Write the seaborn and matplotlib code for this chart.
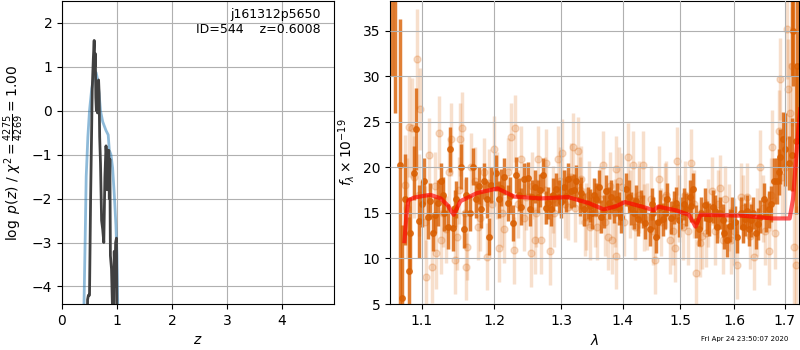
import matplotlib
matplotlib.use("Agg")
import matplotlib.pyplot as plt
import seaborn as sns
from matplotlib.ticker import FixedLocator, FormatStrFormatter, NullLocator

# p(z) curves
z_smooth = [0.38, 0.40, 0.42, 0.44, 0.47, 0.50, 0.54, 0.58, 0.62, 0.65, 0.68, 0.70,
            0.74, 0.80, 0.84, 0.86, 0.89, 0.92, 0.95, 0.98, 1.00, 1.02]
lnp_smooth = [-6.0, -4.4, -3.0, -1.5, -0.6, 0.0, 0.5, 0.8, 0.87, 0.7, 0.3, 0.0,
              -0.25, -0.45, -0.55, -0.9, -1.0, -1.3, -1.9, -2.6, -3.3, -5.0]

z_fit = [0.46, 0.465, 0.48, 0.50, 0.52, 0.55, 0.57, 0.585, 0.595, 0.605, 0.615, 0.625,
         0.635, 0.645, 0.655, 0.665, 0.675, 0.685, 0.70, 0.72, 0.74, 0.76, 0.78, 0.80,
         0.81, 0.82, 0.83, 0.84, 0.85, 0.86, 0.87, 0.88, 0.90, 0.92, 0.94, 0.95, 0.96,
         0.975, 0.99, 1.0]
lnp_fit = [-5.0, -4.3, -4.2, -4.2, -2.0, 0.5, 1.2, 1.6, 1.0, 1.3, 0.3, 0.0,
           0.1, -0.05, 0.15, 0.7, 0.4, -0.6, -1.2, -2.5, -2.7, -3.0, -1.5, -0.8,
           -1.0, -1.8, -0.9, -1.7, -0.9, -2.0, -1.1, -3.3, -3.6, -4.6, -4.5, -3.2, -4.0,
           -3.0, -2.9, -5.0]

# spectrum, well-sampled points
wave_hi = [1.0615, 1.0645, 1.0709, 1.0739, 1.0783, 1.0826, 1.0848, 1.0892, 1.0926, 1.0957,
           1.0995, 1.1023, 1.1079, 1.1106, 1.1153, 1.1180, 1.1208, 1.1255, 1.1280, 1.1301,
           1.1347, 1.1384, 1.1417, 1.1440, 1.1463, 1.1532, 1.1569, 1.1600, 1.1648, 1.1694,
           1.1741, 1.1780, 1.1810, 1.1857, 1.1890, 1.1917, 1.1958, 1.2020, 1.2070, 1.2100,
           1.2145, 1.2195, 1.2230, 1.2270, 1.2320, 1.2360, 1.2395, 1.2435, 1.2495, 1.2520,
           1.2560, 1.2595, 1.2645, 1.2680, 1.2720, 1.2760, 1.2795, 1.2845, 1.2880, 1.2920,
           1.2970, 1.3000, 1.3038, 1.3070, 1.3102, 1.3156, 1.3200, 1.3237, 1.3291, 1.3320,
           1.3360, 1.3425, 1.3460, 1.3490, 1.3530, 1.3560, 1.3597, 1.3640, 1.3680, 1.3721,
           1.3775, 1.3810, 1.3844, 1.3909, 1.3940, 1.3973, 1.4047, 1.4105, 1.4140, 1.4181,
           1.4220, 1.4252, 1.4310, 1.4350, 1.4380, 1.4456, 1.4490, 1.4515, 1.4573, 1.4600,
           1.4632, 1.4690, 1.4730, 1.4766, 1.4836, 1.4880, 1.4924, 1.4970, 1.5012, 1.5060,
           1.5104, 1.5166, 1.5200, 1.5227, 1.5288, 1.5330, 1.5380, 1.5441, 1.5480, 1.5533,
           1.5595, 1.5640, 1.5675, 1.5736, 1.5780, 1.5810, 1.5871, 1.5920, 1.5963, 1.6010,
           1.6059, 1.6124, 1.6170, 1.6203, 1.6250, 1.6288, 1.6330, 1.6373, 1.6418, 1.6460,
           1.6503, 1.6581, 1.6620, 1.6680, 1.6720, 1.6778, 1.6843, 1.6880, 1.6908, 1.6974,
           1.7010, 1.7090, 1.7143, 1.7157, 1.7177, 1.7231, 1.7258]
flux_hi = [48.0, 44.0, 20.3, 5.7, 16.5, 8.6, 12.8, 19.4, 24.2, 14.1,
           16.0, 18.5, 14.6, 16.3, 12.8, 14.8, 16.1, 18.5, 17.0, 15.0,
           13.5, 22.0, 13.3, 15.5, 16.5, 20.1, 13.2, 17.0, 15.0, 20.1,
           16.5, 18.0, 15.4, 18.5, 16.5, 12.4, 18.1, 19.4, 16.5, 17.8,
           19.0, 16.1, 16.9, 13.9, 19.2, 17.0, 15.7, 18.7, 18.8, 15.4,
           16.8, 17.9, 16.8, 17.5, 19.2, 15.6, 16.1, 15.4, 17.0, 17.6,
           16.8, 16.2, 17.9, 16.9, 18.7, 17.4, 17.5, 18.5, 16.5, 17.2,
           15.4, 16.1, 15.8, 15.0, 17.0, 16.5, 17.9, 14.6, 15.2, 17.4,
           16.1, 16.8, 15.7, 16.5, 15.5, 14.6, 17.6, 16.8, 15.5, 15.0,
           16.3, 14.3, 15.7, 15.2, 13.9, 13.2, 16.0, 15.0, 12.4, 14.0,
           15.7, 14.3, 15.0, 16.5, 14.5, 15.6, 16.1, 14.2, 15.0, 16.0,
           15.4, 16.8, 15.8, 17.6, 14.1, 13.2, 15.0, 15.9, 14.5, 14.3,
           15.7, 15.2, 13.5, 15.0, 14.2, 12.8, 12.0, 13.6, 15.0, 14.0,
           12.4, 15.0, 13.5, 14.3, 15.2, 13.2, 14.2, 15.0, 12.8, 13.8,
           14.6, 16.5, 14.7, 15.4, 16.0, 18.5, 18.5, 19.5, 21.2, 23.1,
           22.0, 20.5, 21.4, 44.0, 35.0, 22.9, 31.1]
err_hi = [18.0, 18.0, 16.0, 8.0, 5.0, 6.0, 4.0, 3.0, 4.5, 4.0,
          2.5, 2.5, 2.5, 2.0, 2.0, 2.0, 2.5, 2.0, 2.0, 2.0,
          2.5, 2.5, 2.5, 2.0, 2.0, 2.5, 2.0, 2.0, 2.0, 2.0,
          2.0, 2.0, 2.0, 2.0, 2.0, 2.0, 2.0, 2.0, 2.0, 2.0,
          2.0, 2.0, 2.0, 2.0, 2.0, 1.8, 2.0, 1.8, 1.8, 1.8,
          1.8, 1.8, 1.8, 1.8, 1.8, 1.8, 1.8, 1.8, 1.8, 1.8,
          1.8, 1.8, 1.8, 1.8, 1.8, 1.8, 1.8, 1.8, 1.8, 1.8,
          1.8, 1.8, 1.8, 1.8, 1.8, 1.8, 1.8, 1.8, 1.8, 1.8,
          1.8, 1.8, 1.8, 1.8, 1.8, 1.8, 1.8, 1.8, 1.8, 1.8,
          1.8, 1.8, 1.8, 1.8, 1.8, 1.8, 1.8, 1.8, 1.8, 1.8,
          1.8, 1.8, 1.8, 1.8, 1.8, 1.8, 1.8, 1.8, 1.8, 1.8,
          1.8, 1.8, 1.8, 1.8, 1.8, 1.8, 1.8, 1.8, 1.8, 1.8,
          1.8, 1.8, 1.8, 1.8, 1.8, 1.8, 1.8, 1.8, 1.8, 1.8,
          1.8, 1.8, 1.8, 1.8, 1.8, 1.8, 1.8, 1.8, 1.8, 1.8,
          1.8, 1.8, 1.8, 2.0, 2.0, 2.5, 2.5, 2.5, 3.0, 3.0,
          4.0, 3.0, 4.0, 14.0, 6.0, 8.0, 8.0]

# spectrum, sparse / noisy points
wave_lo = [1.0783, 1.0810, 1.0826, 1.0870, 1.0890, 1.0935, 1.0960, 1.0978, 1.1040, 1.1060,
           1.1093, 1.1139, 1.1170, 1.1185, 1.1232, 1.1255, 1.1280, 1.1324, 1.1370, 1.1394,
           1.1440, 1.1477, 1.1500, 1.1509, 1.1542, 1.1590, 1.1602, 1.1616, 1.1671, 1.1720,
           1.1764, 1.1800, 1.1850, 1.1894, 1.1926, 1.1970, 1.1995, 1.2040, 1.2070, 1.2110,
           1.2145, 1.2190, 1.2245, 1.2285, 1.2305, 1.2350, 1.2395, 1.2430, 1.2470, 1.2535,
           1.2560, 1.2595, 1.2620, 1.2645, 1.2695, 1.2750, 1.2770, 1.2820, 1.2870, 1.2890,
           1.2945, 1.2980, 1.3016, 1.3060, 1.3102, 1.3150, 1.3194, 1.3220, 1.3264, 1.3300,
           1.3317, 1.3370, 1.3398, 1.3450, 1.3452, 1.3533, 1.3580, 1.3620, 1.3667, 1.3700,
           1.3748, 1.3790, 1.3812, 1.3860, 1.3882, 1.3888, 1.3940, 1.3989, 1.4020, 1.4088,
           1.4120, 1.4164, 1.4200, 1.4270, 1.4281, 1.4339, 1.4360, 1.4415, 1.4480, 1.4520,
           1.4556, 1.4620, 1.4660, 1.4720, 1.4750, 1.4807, 1.4860, 1.4895, 1.4942, 1.4980,
           1.5043, 1.5080, 1.5140, 1.5196, 1.5250, 1.5288, 1.5349, 1.5400, 1.5472, 1.5500,
           1.5576, 1.5630, 1.5700, 1.5736, 1.5780, 1.5822, 1.5900, 1.5933, 1.6000, 1.6059,
           1.6124, 1.6170, 1.6242, 1.6300, 1.6386, 1.6450, 1.6503, 1.6569, 1.6600, 1.6680,
           1.6720, 1.6745, 1.6810, 1.6880, 1.6908, 1.6950, 1.7007, 1.7041, 1.7075, 1.7100,
           1.7143, 1.7190, 1.7231]
flux_lo = [18.1, 15.5, 24.5, 24.3, 19.0, 31.9, 17.0, 26.4, 14.0, 8.0,
           21.4, 9.1, 18.0, 10.6, 23.8, 12.0, 15.0, 13.2, 19.5, 23.1,
           9.8, 12.4, 17.5, 23.1, 24.3, 15.0, 9.1, 11.3, 20.1, 18.5,
           13.5, 14.5, 19.5, 10.2, 18.3, 16.0, 22.0, 18.0, 11.1, 15.0,
           13.2, 19.5, 23.4, 10.9, 24.3, 16.0, 20.9, 14.5, 16.8, 10.6,
           18.0, 12.0, 15.0, 20.9, 12.0, 17.5, 20.5, 10.8, 16.5, 15.0,
           20.9, 18.5, 21.6, 16.0, 15.7, 19.0, 22.3, 15.5, 21.8, 17.5,
           18.7, 14.0, 14.6, 17.0, 13.5, 15.0, 13.5, 16.5, 20.3, 14.0,
           12.4, 18.0, 12.0, 15.0, 19.8, 10.3, 18.5, 17.9, 14.0, 21.2,
           16.0, 20.3, 13.5, 17.0, 16.5, 20.3, 14.5, 14.6, 16.5, 13.0,
           9.8, 18.7, 14.0, 16.8, 17.0, 12.0, 13.0, 11.1, 20.7, 15.5,
           13.5, 17.0, 13.0, 20.5, 16.0, 8.4, 11.7, 12.5, 12.8, 15.0,
           17.4, 13.0, 16.0, 17.7, 12.0, 16.5, 14.5, 12.0, 13.0, 9.3,
           16.8, 15.5, 16.8, 12.5, 10.2, 14.0, 20.1, 15.5, 13.0, 10.8,
           17.0, 22.3, 12.8, 24.0, 29.7, 19.0, 20.1, 35.2, 28.6, 26.0,
           31.1, 11.3, 9.3]
err_lo = [5.5, 5.5, 5.5, 5.5, 4.5, 5.5, 4.5, 4.5, 4.0, 4.0,
          4.0, 4.0, 3.7, 4.0, 4.0, 3.7, 3.7, 3.7, 3.7, 4.0,
          3.7, 3.7, 3.7, 4.0, 4.0, 3.7, 3.7, 3.7, 3.7, 3.7,
          3.7, 3.7, 3.7, 3.7, 3.7, 3.7, 3.7, 3.7, 3.7, 3.7,
          3.7, 3.7, 3.7, 3.7, 3.7, 3.7, 3.7, 3.7, 3.7, 3.7,
          3.7, 3.7, 3.7, 3.7, 3.7, 3.7, 3.7, 3.7, 3.7, 3.7,
          3.7, 3.7, 3.7, 3.7, 3.7, 3.7, 3.7, 3.7, 3.7, 3.7,
          3.7, 3.7, 3.7, 3.7, 3.7, 3.7, 3.7, 3.7, 3.7, 3.7,
          3.7, 3.7, 3.7, 3.7, 3.7, 3.7, 3.7, 3.7, 3.7, 3.7,
          3.7, 3.7, 3.7, 3.7, 3.7, 3.7, 3.7, 3.7, 3.7, 3.7,
          3.7, 3.7, 3.7, 3.7, 3.7, 3.7, 3.7, 3.7, 3.7, 3.7,
          3.7, 3.7, 3.7, 3.7, 3.7, 3.7, 3.7, 3.7, 3.7, 3.7,
          3.7, 3.7, 3.7, 3.7, 3.7, 3.7, 3.7, 3.7, 3.7, 3.7,
          3.7, 3.7, 3.7, 3.7, 3.7, 3.7, 4.0, 3.7, 3.7, 3.7,
          4.0, 4.0, 4.0, 4.5, 4.5, 4.5, 5.5, 5.5, 5.5, 5.5,
          6.5, 6.5, 6.5]

# best-fit model
wave_model = [1.0772, 1.0800, 1.0823, 1.0900, 1.1110, 1.1250, 1.1350, 1.1428, 1.1520, 1.1755,
              1.2045, 1.2288, 1.2690, 1.3106, 1.3433, 1.3680, 1.3870, 1.4035, 1.4322, 1.4527,
              1.4604, 1.4913, 1.5155, 1.5276, 1.5368, 1.6160, 1.6760, 1.7101, 1.7170, 1.7275,
              1.7320]
flux_model = [11.9, 15.0, 16.4, 16.7, 17.0, 16.6, 15.8, 14.8, 16.3, 17.2,
              17.7, 16.8, 16.6, 16.75, 16.1, 15.4, 15.7, 16.2, 15.7, 15.3,
              15.7, 15.3, 14.8, 13.5, 14.8, 14.7, 14.4, 14.4, 16.5, 23.8,
              26.4]

lam_ticks = [1.1, 1.2, 1.3, 1.4, 1.5, 1.6, 1.7]

orange = '#d95f02'

fig = plt.figure(figsize=(8, 3.5), dpi=100)
ax1 = fig.add_axes([0.0775, 0.1314, 0.34, 0.866])
ax2 = fig.add_axes([0.4875, 0.1314, 0.5116, 0.866])

# left: p(z)
sns.lineplot(x=z_smooth, y=lnp_smooth, ax=ax1, color='tab:blue', alpha=0.5,
             linewidth=2, estimator=None, sort=False)
sns.lineplot(x=z_fit, y=lnp_fit, ax=ax1, color='0.25', linewidth=2,
             estimator=None, sort=False)
ax1.set_xlim(0, 4.945)
ax1.set_ylim(-4.4, 2.5)
ax1.set_xticks([0, 1, 2, 3, 4])
ax1.set_yticks([-4, -3, -2, -1, 0, 1, 2])
ax1.grid(True)
ax1.set_xlabel(r'$z$')
ax1.set_ylabel(r'$\log\ p(z)$ / $\chi^2=\frac{4275}{4269}=1.00$')
ax1.text(0.95, 0.975, 'j161312p5650\nID=544    z=0.6008', transform=ax1.transAxes,
         ha='right', va='top', fontsize=9)

# right: spectrum
ax2.errorbar(wave_lo, flux_lo, yerr=err_lo, fmt='o', color=orange, alpha=0.2,
             markersize=5, elinewidth=2.5, capsize=0, zorder=1)
ax2.errorbar(wave_hi, flux_hi, yerr=err_hi, fmt='o', color=orange, alpha=0.8,
             markersize=4, elinewidth=2.5, capsize=0, zorder=2)
sns.lineplot(x=wave_model, y=flux_model, ax=ax2, color='red', alpha=0.65,
             linewidth=3, estimator=None, sort=False, zorder=3)
ax2.set_xscale('log')
ax2.xaxis.set_major_locator(FixedLocator(lam_ticks))
ax2.xaxis.set_major_formatter(FormatStrFormatter('%.1f'))
ax2.xaxis.set_minor_locator(NullLocator())
ax2.set_xlim(1.0587, 1.730)
ax2.set_ylim(5, 38.3)
ax2.set_yticks([5, 10, 15, 20, 25, 30, 35])
ax2.set_axisbelow(False)
ax2.grid(True)
ax2.set_xlabel(r'$\lambda$')
ax2.set_ylabel(r'$f_\lambda\times10^{-19}$')

fig.text(0.985, 0.022, 'Fri Apr 24 23:50:07 2020', ha='right', va='bottom', fontsize=5)

fig.savefig('out.png', dpi=100)
